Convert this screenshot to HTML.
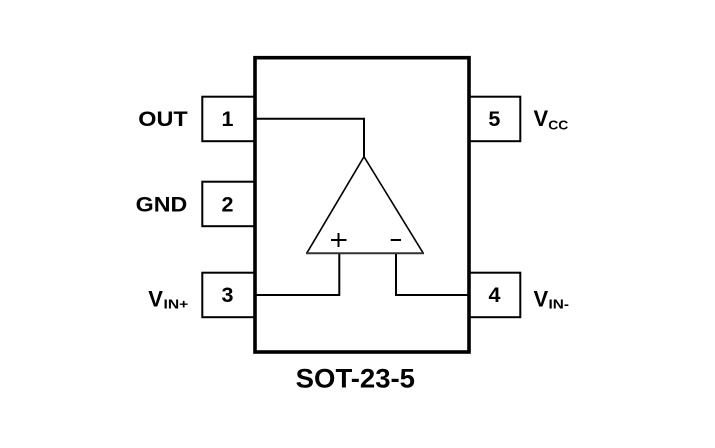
<!DOCTYPE html>
<html><head><meta charset="utf-8"><style>
html,body{margin:0;padding:0;background:#fff;}
svg{display:block;}
text{font-family:"Liberation Sans",Arial,sans-serif;font-weight:bold;fill:#000;}
</style></head><body>
<svg width="715" height="448" viewBox="0 0 715 448" xmlns="http://www.w3.org/2000/svg">
<rect x="0" y="0" width="715" height="448" fill="#fff"/>
<!-- pin boxes -->
<g fill="none" stroke="#000" stroke-width="2">
<rect x="202.3" y="96.7" width="52.7" height="44.5"/>
<rect x="202.3" y="181.7" width="52.7" height="44.5"/>
<rect x="202.3" y="272.7" width="52.7" height="44.5"/>
<rect x="469" y="96.7" width="51.3" height="44.5"/>
<rect x="469" y="272.7" width="51.3" height="44.5"/>
</g>
<!-- main body -->
<rect x="255" y="57.7" width="214" height="294.3" fill="none" stroke="#000" stroke-width="3.6"/>
<!-- wires -->
<g fill="none" stroke="#000" stroke-width="2">
<polyline points="256,118.8 364,118.8 364,157"/>
<polyline points="256,295 339.3,295 339.3,253"/>
<polyline points="468,295 396,295 396,253"/>
</g>
<!-- triangle -->
<polyline points="306.7,253.3 364,156.7 423.3,253.3" fill="none" stroke="#000" stroke-width="1.6"/>
<line x1="306" y1="253.3" x2="424" y2="253.3" stroke="#333" stroke-width="2"/>
<!-- + and - -->
<g stroke="#000" stroke-width="2">
<line x1="331" y1="240" x2="346.5" y2="240"/>
<line x1="338.5" y1="233" x2="338.5" y2="247"/>
<line x1="390.7" y1="240" x2="401" y2="240"/>
</g>
<!-- pin numbers -->
<g font-size="21.5" text-anchor="middle">
<text x="227.5" y="126">1</text>
<text x="227.5" y="211.5">2</text>
<text x="227.5" y="302">3</text>
<text x="494.3" y="126">5</text>
<text x="494.5" y="302">4</text>
</g>
<!-- labels -->
<text x="138.3" y="126" font-size="21.5" textLength="49.4" lengthAdjust="spacingAndGlyphs">OUT</text>
<text x="135.7" y="211.7" font-size="21.5" textLength="51.6" lengthAdjust="spacingAndGlyphs">GND</text>
<text x="148.3" y="306.7" font-size="22">V</text>
<text x="163.5" y="308.3" font-size="13" textLength="24.8" lengthAdjust="spacingAndGlyphs">IN+</text>
<text x="533.5" y="126" font-size="22">V</text>
<text x="548.3" y="129.3" font-size="13" textLength="20" lengthAdjust="spacingAndGlyphs">CC</text>
<text x="533.5" y="306.7" font-size="22">V</text>
<text x="548.5" y="308.3" font-size="13" textLength="20.5" lengthAdjust="spacingAndGlyphs">IN-</text>
<text x="295.7" y="387.7" font-size="26.5" textLength="119.3" lengthAdjust="spacingAndGlyphs">SOT-23-5</text>
</svg>
</body></html>
